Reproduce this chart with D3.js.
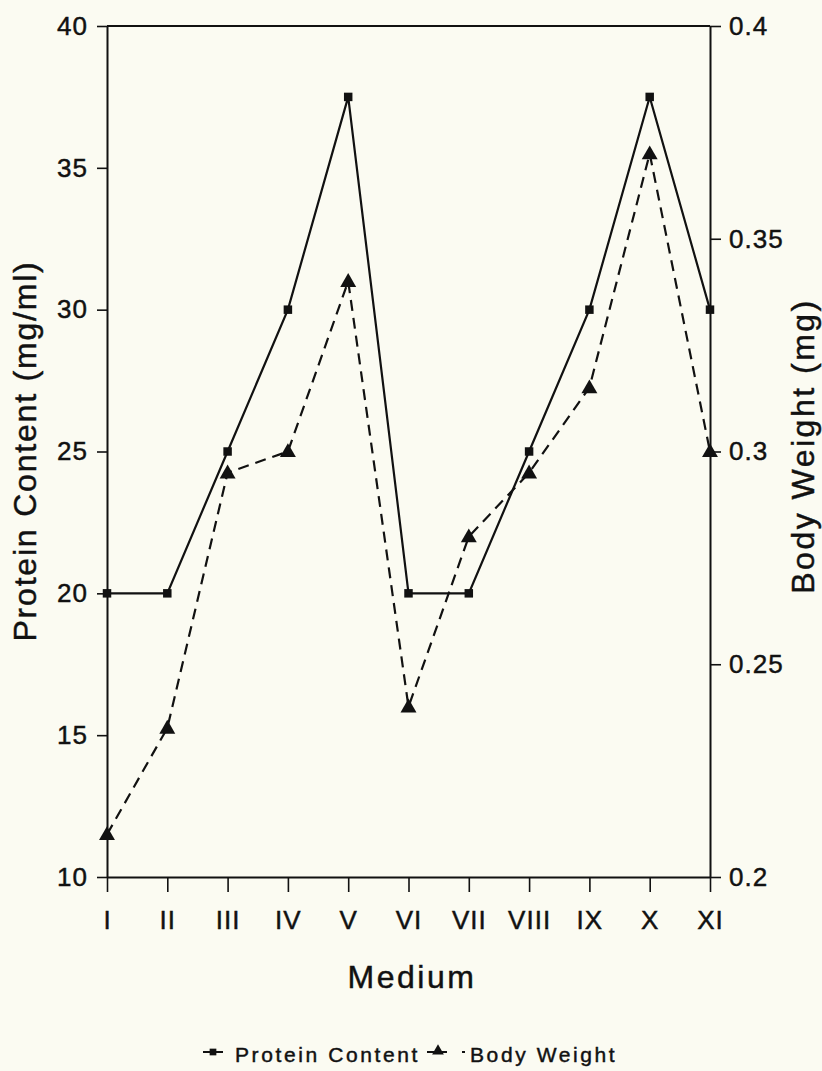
<!DOCTYPE html>
<html>
<head>
<meta charset="utf-8">
<script src="https://cdn.jsdelivr.net/npm/d3@7"></script>
<style>
  html, body { margin: 0; padding: 0; background: #fbfbf2; }
  svg { display: block; }
  text { font-family: "Liberation Sans", Arial, Helvetica, sans-serif; fill: #111; stroke: #111; stroke-width: 0.45px; }
</style>
</head>
<body>
<svg id="chart" width="822" height="1071"></svg>
<script>
const categories = ["I", "II", "III", "IV", "V", "VI", "VII", "VIII", "IX", "X", "XI"];
const proteinContent = [20, 20, 25, 30, 37.5, 20, 20, 25, 30, 37.5, 30];
const bodyWeight = [0.21, 0.235, 0.295, 0.30, 0.34, 0.24, 0.28, 0.295, 0.315, 0.37, 0.30];
const leftTicks = [10, 15, 20, 25, 30, 35, 40];
const rightTicks = [0.2, 0.25, 0.3, 0.35, 0.4];
const rightTickLabels = ["0.2", "0.25", "0.3", "0.35", "0.4"];
const seriesNames = ["Protein Content", "Body Weight"];

const svg = d3.select("#chart");
const L = 107, R = 710, T = 26, B = 877;
const ink = "#111";

const x = d3.scalePoint().domain(categories).range([L, R]).padding(0);
const yL = d3.scaleLinear().domain([10, 40]).range([B, T]);
const yR = d3.scaleLinear().domain([0.2, 0.4]).range([B, T]);

// top frame line
svg.append("line").attr("x1", L).attr("x2", R).attr("y1", T).attr("y2", T)
  .attr("stroke", ink).attr("stroke-width", 2);

function styleAxis(g) {
  g.selectAll("path").attr("stroke", ink).attr("stroke-width", 2);
  g.selectAll("line").attr("stroke", ink).attr("stroke-width", 1.6);
  g.selectAll("text").attr("fill", ink).style("font-size", "26px")
    .style("letter-spacing", "1px").style("font-family", "'Liberation Sans', Arial, sans-serif");
}

const gL = svg.append("g").attr("transform", `translate(${L},0)`)
  .call(d3.axisLeft(yL).tickValues(leftTicks).tickSize(10).tickSizeOuter(0).tickPadding(9).tickFormat(d3.format("d")));
styleAxis(gL);

const gR = svg.append("g").attr("transform", `translate(${R},0)`)
  .call(d3.axisRight(yR).tickValues(rightTicks).tickSize(11).tickSizeOuter(0).tickPadding(8)
    .tickFormat((d, i) => rightTickLabels[i]));
styleAxis(gR);

const gB = svg.append("g").attr("transform", `translate(0,${B})`)
  .call(d3.axisBottom(x).tickSize(15).tickSizeOuter(0).tickPadding(19));
styleAxis(gB);

// axis titles
svg.append("text").attr("transform", `translate(36,451) rotate(-90)`)
  .attr("text-anchor", "middle").style("font-size", "32px").style("letter-spacing", "1.8px")
  .text("Protein Content (mg/ml)");
svg.append("text").attr("transform", `translate(814,446) rotate(-90)`)
  .attr("text-anchor", "middle").style("font-size", "32px").style("letter-spacing", "2.5px")
  .text("Body Weight (mg)");
svg.append("text").attr("x", 412).attr("y", 988)
  .attr("text-anchor", "middle").style("font-size", "32px").style("letter-spacing", "2.5px")
  .text("Medium");

// lines
const lineP = d3.line().x((d, i) => x(categories[i])).y(d => yL(d));
const lineB = d3.line().x((d, i) => x(categories[i])).y(d => yR(d));

svg.append("path").datum(proteinContent).attr("d", lineP)
  .attr("fill", "none").attr("stroke", ink).attr("stroke-width", 2.2);
svg.append("path").datum(bodyWeight).attr("d", lineB)
  .attr("fill", "none").attr("stroke", ink).attr("stroke-width", 2.2)
  .attr("stroke-dasharray", "11,7");

const sq = d3.symbol().type(d3.symbolSquare).size(72);
const tri = d3.symbol().type(d3.symbolTriangle).size(110);

svg.append("g").selectAll("path").data(proteinContent).join("path")
  .attr("d", sq).attr("fill", ink)
  .attr("transform", (d, i) => `translate(${x(categories[i])},${yL(d)})`);
svg.append("g").selectAll("path").data(bodyWeight).join("path")
  .attr("d", tri).attr("fill", ink)
  .attr("transform", (d, i) => `translate(${x(categories[i])},${yR(d) + 1})`);

// legend
const lg = svg.append("g");
lg.append("line").attr("x1", 203).attr("x2", 223).attr("y1", 1052).attr("y2", 1052)
  .attr("stroke", ink).attr("stroke-width", 2);
lg.append("path").attr("d", d3.symbol().type(d3.symbolSquare).size(45))
  .attr("fill", ink).attr("transform", "translate(213,1052)");
lg.append("text").attr("x", 235).attr("y", 1062).style("font-size", "21px")
  .style("letter-spacing", "2.6px").text(seriesNames[0]);
lg.append("line").attr("x1", 427).attr("x2", 465).attr("y1", 1052).attr("y2", 1052)
  .attr("stroke", ink).attr("stroke-width", 2).attr("stroke-dasharray", "20,15,3,10");
lg.append("path").attr("d", d3.symbol().type(d3.symbolTriangle).size(60))
  .attr("fill", ink).attr("transform", "translate(438,1051)");
lg.append("text").attr("x", 470).attr("y", 1062).style("font-size", "21px")
  .style("letter-spacing", "2.6px").text(seriesNames[1]);
</script>
</body>
</html>
